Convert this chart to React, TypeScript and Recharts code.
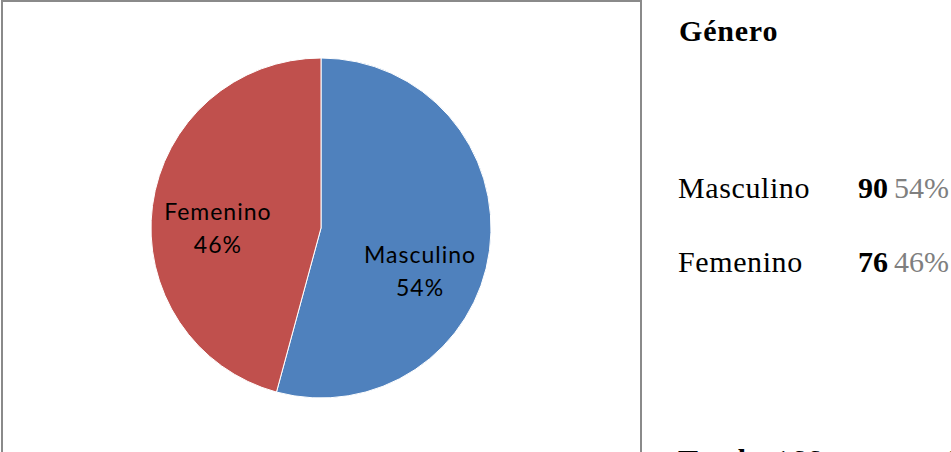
import { Cell, Pie, PieChart } from 'recharts';

const categories = ['Masculino', 'Femenino'];
const counts = [90, 76];
const sliceColors = ['#4F81BD', '#C0504D'];
const panelTitle = 'Género';
const totalLabel = 'Total';

const total = counts.reduce((a, b) => a + b, 0);
const data = categories.map((name, i) => ({ name, value: counts[i] }));
const pct = (v: number) => `${Math.round((v / total) * 100)}%`;

const RAD = Math.PI / 180;
// Excel "best fit" nudges the labels downward a bit
const labelShift = [29, 12];

const labelFont = 'Lato, "Open Sans", sans-serif';
const serif = '"Liberation Serif", "Times New Roman", serif';

function SliceLabel(props: any) {
  const { cx, cy, midAngle, outerRadius, index, name, value } = props;
  const r = outerRadius * 0.6;
  const x = cx + r * Math.cos(-midAngle * RAD) - 2;
  const y = cy + r * Math.sin(-midAngle * RAD) + labelShift[index];
  return (
    <g>
      <text x={x} y={y - 16} textAnchor="middle" dominantBaseline="central" fontFamily={labelFont} fontSize={23} fill="#000" letterSpacing={1}>
        {name}
      </text>
      <text x={x} y={y + 17} textAnchor="middle" dominantBaseline="central" fontFamily={labelFont} fontSize={23} fill="#000" letterSpacing={1}>
        {pct(value)}
      </text>
    </g>
  );
}

export default function App() {
  return (
    <div style={{ position: 'absolute', left: 0, top: 0, width: 951, height: 452, overflow: 'hidden', background: '#fff' }}>
      <div
        style={{
          position: 'absolute',
          left: 1,
          top: 0,
          width: 637,
          height: 520,
          border: '2px solid #8a8a8a',
        }}
      />
      <div style={{ position: 'absolute', left: 0, top: 0 }}>
        <PieChart width={642} height={452} margin={{ top: 0, right: 0, bottom: 0, left: 0 }}>
          <Pie
            data={data}
            dataKey="value"
            nameKey="name"
            cx={321}
            cy={228}
            outerRadius={170}
            startAngle={90}
            endAngle={-270}
            stroke="#ffffff"
            strokeWidth={1}
            label={SliceLabel}
            labelLine={false}
            isAnimationActive={false}
          >
            {data.map((_, i) => (
              <Cell key={i} fill={sliceColors[i]} />
            ))}
          </Pie>
        </PieChart>
      </div>
      <svg width={310} height={452} style={{ position: 'absolute', left: 641, top: 0 }}>
        <text x={38} y={41} fontFamily={serif} fontSize={30} fontWeight="bold" letterSpacing={0.8}>
          {panelTitle}
        </text>
        {categories.map((c, i) => (
          <g key={c}>
            <text x={37} y={198 + i * 74} fontFamily={serif} fontSize={30} letterSpacing={0.6} fill="#000">
              {c}
            </text>
            <text x={247} y={198 + i * 74} fontFamily={serif} fontSize={30} fontWeight="bold" textAnchor="end" fill="#000">
              {counts[i]}
            </text>
            <text x={253} y={198 + i * 74} fontFamily={serif} fontSize={30} fill="#7f7f7f">
              {pct(counts[i])}
            </text>
          </g>
        ))}
        <text x={37} y={470} fontFamily={serif} fontSize={30} fontWeight="bold" letterSpacing={0.6}>
          {totalLabel}
        </text>
        <text x={134} y={470} fontFamily={serif} fontSize={30} letterSpacing={0.6}>
          {total}
        </text>
        <text x={302} y={470} fontFamily={serif} fontSize={30}>
          100%
        </text>
      </svg>
    </div>
  );
}
